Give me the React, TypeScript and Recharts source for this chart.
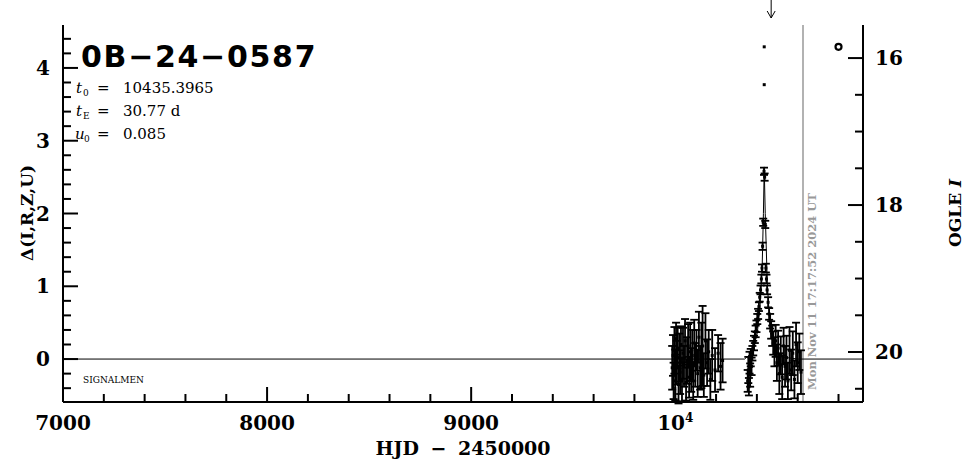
import React from 'react';
import { ComposedChart, Line, Scatter, ErrorBar, XAxis, YAxis, ReferenceLine } from 'recharts';

// photometry (HJD - 2450000, delta flux, error)
const obsT = [
  9985, 9989, 9992, 9996, 10000, 10004, 10008, 10012, 10016, 10020, 10024, 10028, 10033, 10038,
  10043, 10048, 10053, 10058, 10063, 10068, 10073, 10078, 10083, 10088, 10093, 10098, 10104,
  10110, 10116, 10122, 10128, 10134, 10140, 10148, 10156, 10164, 10172, 10181, 10195, 10210,
  10222, 10232,
  10355, 10358, 10361, 10364, 10367, 10370, 10374, 10378, 10382, 10386, 10390, 10394, 10398,
  10402, 10406, 10410, 10414, 10418, 10422, 10425, 10428, 10431, 10435, 10438, 10441, 10444, 10447,
  10450, 10455, 10460, 10465, 10470, 10475, 10480, 10486, 10492, 10498, 10504, 10510, 10517,
  10524, 10531, 10538, 10545, 10552, 10560, 10568, 10576, 10584, 10592, 10600, 10608, 10616,
];
const obsDelta = [
  -0.12, 0.05, -0.3, 0.12, -0.22, 0.28, -0.05, 0.15, -0.35, 0.02, -0.18, 0.2, -0.28, 0.08,
  -0.1, 0.25, -0.32, -0.02, 0.18, -0.25, 0.1, -0.15, 0.05, -0.3, 0.22, -0.08, 0.12,
  -0.2, 0.3, -0.12, 0.05, 0.18, -0.22, 0.25, -0.05, 0.1, -0.28, 0.05, -0.15, 0.08,
  -0.1, -0.02,
  -0.3, -0.15, -0.38, -0.05, -0.22, 0.02, -0.1, 0.08, 0.15, 0.22, 0.3, 0.38, 0.45,
  0.55, 0.62, 0.72, 0.85, 0.95, 1.1, 1.25, 1.55, 1.88, 2.58, 2.5, 1.85, 1.25, 1.1,
  0.95, 0.78, 0.62, 0.52, 0.4, 0.32, 0.22, 0.1, 0.25, -0.05, 0.15, -0.2, 0.05,
  -0.25, 0.18, -0.1, 0.02, -0.3, 0.12, -0.15, 0.08, -0.28, 0.2, -0.05, 0.1, -0.18,
];
const obsErr = [
  0.3, 0.28, 0.25, 0.32, 0.35, 0.22, 0.3, 0.28, 0.26, 0.33, 0.3, 0.25, 0.3, 0.35,
  0.28, 0.3, 0.25, 0.32, 0.3, 0.28, 0.4, 0.3, 0.35, 0.26, 0.32, 0.3, 0.28,
  0.32, 0.35, 0.3, 0.45, 0.55, 0.3, 0.38, 0.32, 0.3, 0.28, 0.35, 0.3, 0.25,
  0.32, 0.3,
  0.15, 0.18, 0.12, 0.15, 0.16, 0.12, 0.12, 0.1, 0.1, 0.1, 0.08, 0.08, 0.08,
  0.07, 0.07, 0.06, 0.06, 0.06, 0.06, 0.05, 0.05, 0.05, 0.05, 0.05, 0.05, 0.06, 0.06,
  0.06, 0.07, 0.08, 0.1, 0.12, 0.14, 0.16, 0.2, 0.22, 0.25, 0.24, 0.28, 0.26,
  0.3, 0.25, 0.28, 0.3, 0.25, 0.32, 0.28, 0.3, 0.26, 0.3, 0.28, 0.25, 0.3,
];

// two isolated points above the peak (no error bars)
const outT = [10436, 10436];
const outDelta = [4.29, 3.77];

// model curve
const modelT = [7000, 10340, 10368, 10385, 10402, 10415, 10426, 10432, 10436, 10441, 10451, 10466, 10490, 10520, 10600, 10920];
const modelDelta = [0, 0, 0.07, 0.17, 0.36, 0.7, 1.27, 2.0, 2.64, 2.0, 1.04, 0.36, 0.1, 0.03, 0, 0];

// open symbol at top right, arrow, current date line
const markT = [10800];
const markDelta = [4.29];
const arrowT = 10470;
const nowT = 10626;
const nowLabel = 'Mon Nov 11 17:17:52 2024 UT';

const xTicks = [7000, 7200, 7400, 7600, 7800, 8000, 8200, 8400, 8600, 8800, 9000, 9200, 9400, 9600, 9800, 10000, 10200, 10400, 10600, 10800];
const yTicks = [-0.4, -0.2, 0, 0.2, 0.4, 0.6, 0.8, 1, 1.2, 1.4, 1.6, 1.8, 2, 2.2, 2.4, 2.6, 2.8, 3, 3.2, 3.4, 3.6, 3.8, 4, 4.2, 4.4];
const magTicks = [16, 16.5, 17, 17.5, 18, 18.5, 19, 19.5, 20, 20.5];

const obsData = obsT.map((t, i) => ({ t, d: obsDelta[i], e: obsErr[i] }));
const outData = outT.map((t, i) => ({ t, d: outDelta[i] }));
const modelData = modelT.map((t, i) => ({ t, d: modelDelta[i] }));
const markData = markT.map((t, i) => ({ t, d: markDelta[i] }));

const serif = "'DejaVu Serif', serif";
const lw = 2;

const BottomTick = (p: any) => {
  const v = p.payload.value;
  const major = v % 1000 === 0;
  return (
    <g>
      <line x1={p.x} y1={p.y} x2={p.x} y2={p.y - (major ? 15 : 8)} stroke="#000" strokeWidth={lw} />
      {major && (
        <text x={p.x} y={p.y + 28} textAnchor="middle" fontFamily={serif} fontWeight="bold" fontSize={20} fill="#000">
          {v === 10000 ? (
            <>
              10<tspan dy={-8} fontSize={12}>4</tspan>
            </>
          ) : (
            v
          )}
        </text>
      )}
    </g>
  );
};

const TopTick = (p: any) => {
  const major = p.payload.value % 1000 === 0;
  return <line x1={p.x} y1={p.y} x2={p.x} y2={p.y + (major ? 15 : 8)} stroke="#000" strokeWidth={lw} />;
};

const LeftTick = (p: any) => {
  const v = p.payload.value;
  const major = Math.abs(v - Math.round(v)) < 1e-6;
  return (
    <g>
      <line x1={p.x} y1={p.y} x2={p.x + (major ? 15 : 8)} y2={p.y} stroke="#000" strokeWidth={lw} />
      {major && (
        <text x={p.x - 13} y={p.y + 7} textAnchor="end" fontFamily={serif} fontWeight="bold" fontSize={20} fill="#000">
          {Math.round(v)}
        </text>
      )}
    </g>
  );
};

const RightTick = (p: any) => {
  const v = p.payload.value;
  const major = v % 2 === 0;
  return (
    <g>
      <line x1={p.x} y1={p.y} x2={p.x - (major ? 15 : 8)} y2={p.y} stroke="#000" strokeWidth={lw} />
      {major && (
        <text x={p.x + 12} y={p.y + 7} textAnchor="start" fontFamily={serif} fontWeight="bold" fontSize={20} fill="#000">
          {v}
        </text>
      )}
    </g>
  );
};

const Square = (p: any) => <rect x={p.cx - 1.5} y={p.cy - 1.5} width={3} height={3} fill="#000" />;
const OpenMark = (p: any) => <circle cx={p.cx} cy={p.cy} r={3} fill="none" stroke="#000" strokeWidth={2.2} />;

const ArrowLabel = (p: any) => {
  const vb = p.viewBox;
  const x = vb.x;
  const y0 = vb.y;
  return (
    <g stroke="#000" strokeWidth={1} fill="none">
      <line x1={x} y1={y0 - 26} x2={x} y2={y0 - 7} />
      <polyline points={`${x - 4},${y0 - 14} ${x},${y0 - 7} ${x + 4},${y0 - 14}`} />
    </g>
  );
};

const NowLabel = (p: any) => {
  const vb = p.viewBox;
  const x = vb.x + 13;
  const y = vb.y + vb.height - 12;
  return (
    <text x={x} y={y} transform={`rotate(-90 ${x} ${y})`} fontFamily={serif} fontWeight="bold" fontSize={11.5} fill="#999">
      {nowLabel}
    </text>
  );
};

export default function App() {
  return (
    <div style={{ position: 'absolute', left: 0, top: 0, width: 966, height: 459, background: '#fff' }}>
      <ComposedChart width={966} height={459} margin={{ top: 25, right: 43, bottom: 17, left: 23 }}>
        <XAxis
          xAxisId="b"
          type="number"
          dataKey="t"
          domain={[7000, 10920]}
          ticks={xTicks}
          allowDataOverflow
          height={40}
          tickSize={0}
          tickMargin={0}
          tickLine={false}
          axisLine={{ stroke: '#000', strokeWidth: lw }}
          tick={<BottomTick />}
          interval={0}
        />
        <XAxis
          xAxisId="t"
          orientation="top"
          type="number"
          dataKey="t"
          domain={[7000, 10920]}
          ticks={xTicks}
          allowDataOverflow
          height={0}
          tickSize={0}
          tickMargin={0}
          tickLine={false}
          axisLine={{ stroke: '#000', strokeWidth: lw }}
          tick={<TopTick />}
          interval={0}
        />
        <YAxis
          yAxisId="d"
          type="number"
          dataKey="d"
          domain={[-0.59, 4.59]}
          ticks={yTicks}
          allowDataOverflow
          width={40}
          tickSize={0}
          tickMargin={0}
          tickLine={false}
          axisLine={{ stroke: '#000', strokeWidth: lw }}
          tick={<LeftTick />}
          interval={0}
        />
        <YAxis
          yAxisId="m"
          orientation="right"
          type="number"
          domain={[15.55, 20.68]}
          reversed
          ticks={magTicks}
          allowDataOverflow
          width={60}
          tickSize={0}
          tickMargin={0}
          tickLine={false}
          axisLine={{ stroke: '#000', strokeWidth: lw }}
          tick={<RightTick />}
          interval={0}
        />
        <ReferenceLine xAxisId="b" yAxisId="d" x={nowT} stroke="#999" strokeWidth={1.5} label={(p: any) => <NowLabel {...p} />} />
        <ReferenceLine xAxisId="b" yAxisId="d" x={arrowT} stroke="none" label={(p: any) => <ArrowLabel {...p} />} />
        <Line
          xAxisId="b"
          yAxisId="d"
          data={modelData}
          dataKey="d"
          type="linear"
          stroke="#000"
          strokeWidth={1}
          dot={false}
          activeDot={false}
          isAnimationActive={false}
        />
        <Scatter xAxisId="b" yAxisId="d" data={obsData} dataKey="d" shape={Square} isAnimationActive={false}>
          <ErrorBar dataKey="e" direction="y" width={4} stroke="#000" strokeWidth={1.8} isAnimationActive={false} />
        </Scatter>
        <Scatter xAxisId="b" yAxisId="d" data={outData} dataKey="d" shape={Square} isAnimationActive={false} />
        <Scatter xAxisId="b" yAxisId="d" data={markData} dataKey="d" shape={OpenMark} isAnimationActive={false} />
      </ComposedChart>
      <svg width={966} height={459} style={{ position: 'absolute', left: 0, top: 0, pointerEvents: 'none' }}>
        <text x={81} y={67} fontFamily="'DejaVu Sans', sans-serif" fontWeight="bold" fontSize={30} letterSpacing={1.7} fill="#000">
          0B−24−0587
        </text>
        <text y={93} fontFamily={serif} fontSize={15} fill="#000">
          <tspan x={76} fontStyle="italic">t</tspan>
          <tspan x={83} dy={3} fontSize={9}>0</tspan>
          <tspan x={97} dy={-3}>=</tspan>
          <tspan x={123}>10435.3965</tspan>
        </text>
        <text y={116} fontFamily={serif} fontSize={15} fill="#000">
          <tspan x={76} fontStyle="italic">t</tspan>
          <tspan x={83} dy={3} fontSize={9}>E</tspan>
          <tspan x={97} dy={-3}>=</tspan>
          <tspan x={123}>30.77 d</tspan>
        </text>
        <text y={139} fontFamily={serif} fontSize={15} fill="#000">
          <tspan x={75} fontStyle="italic">u</tspan>
          <tspan x={84} dy={3} fontSize={9}>0</tspan>
          <tspan x={97} dy={-3}>=</tspan>
          <tspan x={123}>0.085</tspan>
        </text>
        <text x={83} y={383} fontFamily={serif} fontSize={9} fill="#000">
          SIGNALMEN
        </text>
        <text x={463} y={455} textAnchor="middle" fontFamily={serif} fontWeight="bold" fontSize={19} wordSpacing={5} fill="#000">
          HJD − 2450000
        </text>
        <text x={33} y={213} textAnchor="middle" transform="rotate(-90 33 213)" fontFamily={serif} fontWeight="bold" fontSize={17} fill="#000">
          Δ(I,R,Z,U)
        </text>
        <text x={961} y={213} textAnchor="middle" transform="rotate(-90 961 213)" fontFamily={serif} fontWeight="bold" fontSize={17} fill="#000">
          OGLE <tspan fontStyle="italic">I</tspan>
        </text>
      </svg>
    </div>
  );
}
